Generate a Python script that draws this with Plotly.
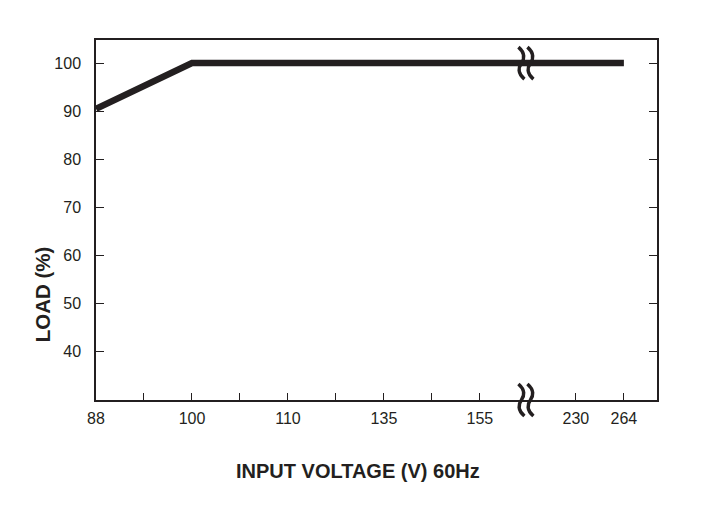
import plotly.graph_objects as go

# Data
voltage = [88, 100, 264]
load = [90.5, 100, 100]

x_tick_labels = ["88", "100", "110", "135", "155", "230", "264"]
x_tick_values = [88, 100, 110, 135, 155, 230, 264]
x_tick_slots = [0, 2, 4, 6, 8, 10, 11]   # broken, non-linear axis slots
minor_slots = [1, 3, 5, 7]
break_slot = 9
y_ticks = [40, 50, 60, 70, 80, 90, 100]

slot_of = dict(zip(x_tick_values, x_tick_slots))
xs = [slot_of[v] for v in voltage]

INK = "#231f20"
FONT = "Liberation Sans, Arial, sans-serif"

fig = go.Figure()
fig.add_trace(go.Scatter(x=xs, y=load, mode="lines",
                         line=dict(color=INK, width=6.5), hoverinfo="skip",
                         showlegend=False))

tickvals = sorted(x_tick_slots + minor_slots)
ticktext = [x_tick_labels[x_tick_slots.index(t)] if t in x_tick_slots else "" for t in tickvals]

fig.update_xaxes(range=[0, 11.69], tickmode="array", tickvals=tickvals, ticktext=ticktext,
                 ticks="inside", ticklen=7, tickwidth=1.2, tickcolor=INK,
                 showline=True, linecolor=INK, linewidth=1.5, mirror=True,
                 showgrid=False, zeroline=False,
                 tickfont=dict(family=FONT, size=16, color=INK), ticklabelstandoff=3)
fig.update_yaxes(range=[30, 104.8], tickmode="array", tickvals=y_ticks,
                 ticks="inside", ticklen=8, tickwidth=1.2, tickcolor=INK,
                 showline=True, linecolor=INK, linewidth=1.5, mirror="ticks",
                 showgrid=False, zeroline=False,
                 tickfont=dict(family=FONT, size=16, color=INK), ticklabelstandoff=10)

# break symbols (pixel-sized, anchored at the break slot)
def squiggle(cx):
    return (f"M {cx-3},16 C {cx+4},10 {cx+3},4 {cx},0 "
            f"C {cx-3},-4 {cx-4},-10 {cx+3},-16")

for yref, yanc in [("y", 100), ("paper", 0)]:
    for cx in [-6.5, 2.5]:
        fig.add_shape(type="path", xref="x", yref=yref,
                      xsizemode="pixel", ysizemode="pixel",
                      xanchor=break_slot, yanchor=yanc,
                      path=squiggle(cx), line=dict(color=INK, width=3.5))

fig.add_annotation(text="<b>INPUT VOLTAGE (V) 60Hz</b>", xref="paper", yref="paper",
                   x=0.467, y=-0.197, yanchor="middle", showarrow=False,
                   font=dict(family=FONT, size=20, color=INK))
fig.add_annotation(text="<b>LOAD (%)</b>", xref="paper", yref="paper",
                   x=-0.096, y=0.294, xanchor="center", yanchor="middle", textangle=-90,
                   showarrow=False, font=dict(family=FONT, size=20.5, color=INK))

fig.update_layout(width=705, height=519, margin=dict(l=88, r=56, t=32, b=127),
                  paper_bgcolor="white", plot_bgcolor="white")

fig.write_html("out.html")
